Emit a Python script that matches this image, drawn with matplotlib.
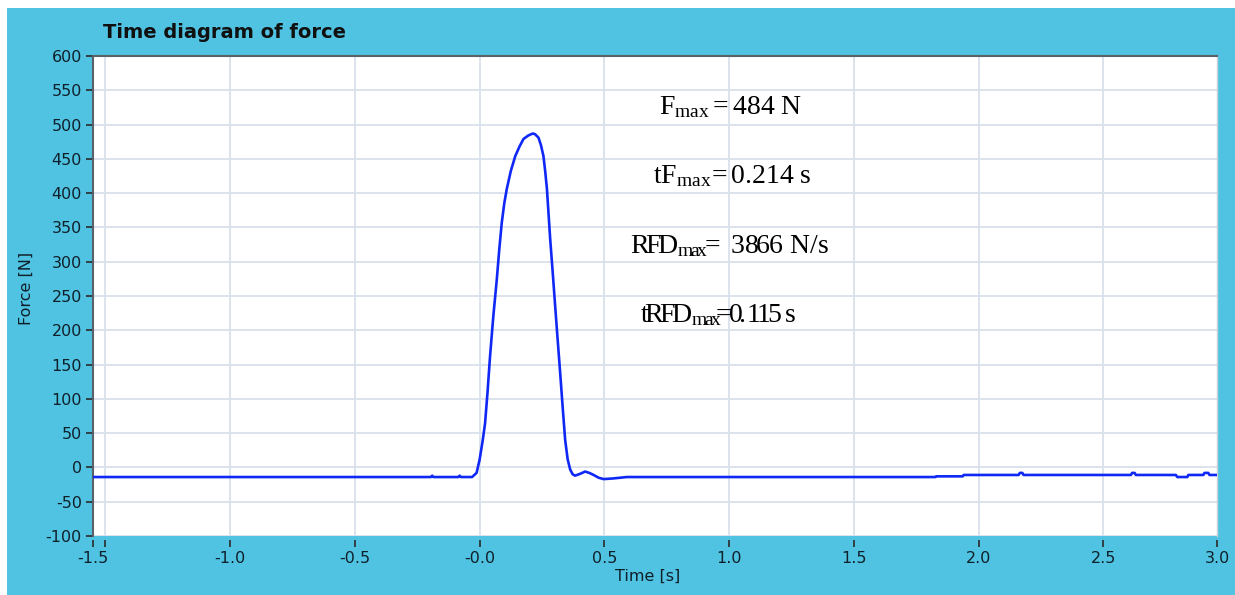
import matplotlib
matplotlib.use('Agg')
import matplotlib.pyplot as plt
from matplotlib.ticker import FixedLocator, FixedFormatter
from matplotlib.patches import Rectangle

# === Settings ===
bg_blue = "#4FC3E1"
line_blue = "#1028F5"
grid_col = "#D9E1EA"
plt.rcParams['mathtext.fontset'] = 'custom'
plt.rcParams['mathtext.rm'] = 'Liberation Serif'
plt.rcParams['mathtext.it'] = 'Liberation Serif:italic'

# === Data ===
time_s = [-1.549, -0.195, -0.19, -0.185, -0.085, -0.08, -0.075, -0.03, -0.012,
          0.0, 0.012, 0.022, 0.032, 0.042, 0.055, 0.069, 0.079, 0.089, 0.099,
          0.109, 0.125, 0.143, 0.16, 0.176, 0.195, 0.207, 0.214, 0.222, 0.236,
          0.246, 0.256, 0.263, 0.270, 0.283, 0.293, 0.303, 0.313, 0.323, 0.333,
          0.343, 0.353, 0.363, 0.373, 0.383, 0.405, 0.423, 0.44, 0.457, 0.477,
          0.497, 0.537, 0.59, 1.827, 1.83, 1.936, 1.94, 2.16, 2.165, 2.175,
          2.18, 2.61, 2.615, 2.625, 2.63, 2.79, 2.796, 2.836, 2.84, 2.9, 2.905,
          2.92, 2.925, 2.955]
force_n = [-14, -14, -12, -14, -14, -12, -14, -14, -8,
           11, 38, 64, 110, 162, 220, 274, 318, 357, 385,
           406, 432, 454, 468, 479, 484, 486, 487, 486, 481,
           470, 454, 432, 406, 333, 285, 235, 186, 138, 88,
           40, 12, -3, -10, -12, -9, -6, -8, -11, -15,
           -17, -16, -14, -14, -13, -13, -11, -11, -8, -8,
           -11, -11, -8, -8, -11, -11, -14, -14, -11, -11, -8,
           -8, -11, -11]

x_min, x_max = -1.549, 2.955
y_min, y_max = -100, 600
x_major = [-1.5, -1.0, -0.5, 0.0, 0.5, 1.0, 1.5, 2.0, 2.5]
x_major_labels = ["", "-1.0", "-0.5", "-0.0", "0.5", "1.0", "1.5", "2.0", "2.5"]
x_edge_labels = ["-1.5", "3.0"]
y_ticks = list(range(-100, 601, 50))

lines = [r"$\mathrm{F_{max}} = \mathrm{484\ N}$",
         r"$\mathrm{tF_{max}\!= 0.214\ s}$",
         r"$\mathrm{R\!F\!D_{m\!a\!x}\!\!=\ 38\!66\ N/s}$",
         r"$\mathrm{t\!R\!F\!D_{m\!a\!x}\!\!\!=\!\!0\!.\!1\!1\!5\,s}$"]

# === Plot ===
fig = plt.figure(figsize=(12.35, 5.95), dpi=100, facecolor="white")
bg = Rectangle((7 / 1235, 0), 1, 1 - 8 / 595, transform=fig.transFigure,
               facecolor=bg_blue, edgecolor="none", zorder=-10)
fig.add_artist(bg)

ax = fig.add_axes([93 / 1235, 59 / 595, 1124 / 1235, 480 / 595])
ax.set_facecolor("white")
ax.plot(time_s, force_n, color=line_blue, linewidth=1.9, zorder=3)

ax.set_xlim(x_min, x_max)
ax.set_ylim(y_min, y_max)

ax.xaxis.set_major_locator(FixedLocator(x_major))
ax.xaxis.set_major_formatter(FixedFormatter(x_major_labels))
ax.xaxis.set_minor_locator(FixedLocator([x_min, x_max]))
ax.xaxis.set_minor_formatter(FixedFormatter(x_edge_labels))
ax.set_yticks(y_ticks)
ax.set_yticklabels([str(v) for v in y_ticks])

ax.grid(True, which="major", color=grid_col, linewidth=1.3, zorder=0)
ax.tick_params(which="both", direction="out", length=5, width=1.2,
               color="#2a2a2a", labelcolor="#10202a", labelsize=11.5)
ax.tick_params(axis="x", which="both", pad=3)
ax.tick_params(axis="y", which="both", pad=3)

for side in ["left", "top"]:
    ax.spines[side].set_color("#5a6068")
    ax.spines[side].set_linewidth(1.5)
ax.spines["bottom"].set_visible(False)
ax.spines["bottom"].set_position(("outward", 3))
ax.spines["right"].set_color("#c8d0d8")
ax.spines["right"].set_linewidth(1)

ax.set_xlabel("Time [s]", fontsize=11.5, color="#10202a")
ax.set_ylabel("Force [N]", fontsize=11.5, color="#10202a")
ax.xaxis.set_label_coords(0.493, -0.069)
ax.yaxis.set_label_coords(-0.0525, 0.515)

fig.text(103 / 1235, 1 - 32 / 595, "Time diagram of force", fontsize=14,
         fontweight="bold", color="#101010", va="center", ha="left")

y_pos = [0.879, 0.735, 0.590, 0.446]
x_pos = [0.567, 0.569, 0.566, 0.556]
for txt, xp, yp in zip(lines, x_pos, y_pos):
    ax.text(xp, yp, txt, transform=ax.transAxes, fontsize=20, color="black",
            ha="center", va="baseline", zorder=4)

fig.savefig("out.png", dpi=100, facecolor=fig.get_facecolor())
